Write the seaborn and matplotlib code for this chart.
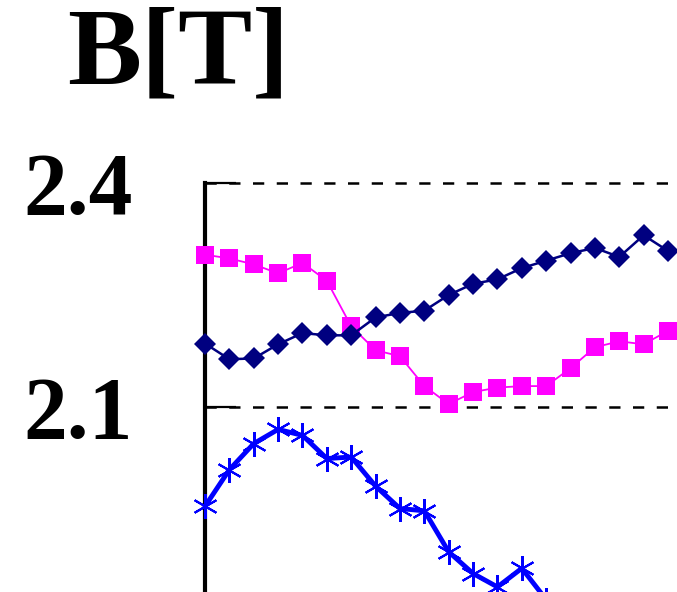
import matplotlib
matplotlib.use("Agg")
import matplotlib.pyplot as plt
import seaborn as sns
import pandas as pd

# ---- data ----
navy_x = list(range(20))
navy_y = [2.185, 2.164, 2.165, 2.184, 2.199, 2.196, 2.196, 2.220, 2.226, 2.229,
          2.250, 2.265, 2.271, 2.286, 2.296, 2.306, 2.313, 2.301, 2.330, 2.309]

magenta_x = list(range(21))
magenta_y = [2.304, 2.299, 2.291, 2.279, 2.293, 2.269, 2.208, 2.176, 2.168, 2.128,
             2.104, 2.120, 2.126, 2.128, 2.128, 2.152, 2.180, 2.188, 2.184, 2.202,
             2.220]

blue_x = list(range(15))
blue_y = [1.967, 2.016, 2.051, 2.070, 2.062, 2.031, 2.033, 1.994, 1.964, 1.961,
          1.906, 1.877, 1.859, 1.884, 1.842]

yticks = [2.1, 2.4]
ytick_labels = ["2.1", "2.4"]
title = "B[T]"

sns.set_style("white")
plt.rcParams['font.family'] = ['Liberation Serif', 'DejaVu Serif']
plt.rcParams['text.color'] = 'black'

W, H = 677, 592
fig = plt.figure(figsize=(W / 100, H / 100), dpi=100)
ax = fig.add_axes([205 / W, 0, (W - 205) / W, (H - 183) / H])

df_n = pd.DataFrame({"x": navy_x, "y": navy_y})
df_m = pd.DataFrame({"x": magenta_x, "y": magenta_y})
df_b = pd.DataFrame({"x": blue_x, "y": blue_y})

sns.lineplot(data=df_m, x="x", y="y", ax=ax, color="#FF00FF", linewidth=1.3,
             marker="s", markersize=12.5, markeredgewidth=0, clip_on=False, zorder=3)
sns.lineplot(data=df_n, x="x", y="y", ax=ax, color="#000080", linewidth=1.8,
             marker="D", markersize=11.5, markeredgewidth=0, clip_on=False, zorder=4)
sns.lineplot(data=df_b, x="x", y="y", ax=ax, color="#0000FF", linewidth=3.5,
             marker=(6, 2, 0), markersize=18, markeredgewidth=1.5,
             markeredgecolor="#0000FF", clip_on=False, zorder=5)

ax.set_xlim(0, (W - 205) / 24.37)
ax.set_ylim(2.1 - (H - 407) / 746.7, 2.4)
ax.set_xlabel("")
ax.set_ylabel("")
ax.set_xticks([])
ax.set_yticks(yticks)
ax.set_yticklabels(ytick_labels, fontsize=63, fontweight="bold", color="black",
                   family=["Liberation Serif", "DejaVu Serif"])
ax.tick_params(axis="y", left=True, direction="in", length=22, width=1.6,
               pad=52, color="black", labelcolor="black")

for yv in yticks:
    ax.axhline(yv, color="black", linewidth=1.8, linestyle=(0, (4.5, 5)),
               clip_on=False, zorder=1)

for s in ["top", "right", "bottom"]:
    ax.spines[s].set_visible(False)
ax.spines["left"].set_color("black")
ax.spines["left"].set_linewidth(3)
ax.spines["left"].set_bounds(ax.get_ylim()[0], 2.4)
ax.patch.set_alpha(0)

fig.text(67 / W, 1 - 84 / H, title, ha="left", va="baseline", fontsize=80,
         fontweight="bold", color="black",
         family=["Liberation Serif", "DejaVu Serif"])

fig.savefig("out.png", dpi=100, facecolor="white")
